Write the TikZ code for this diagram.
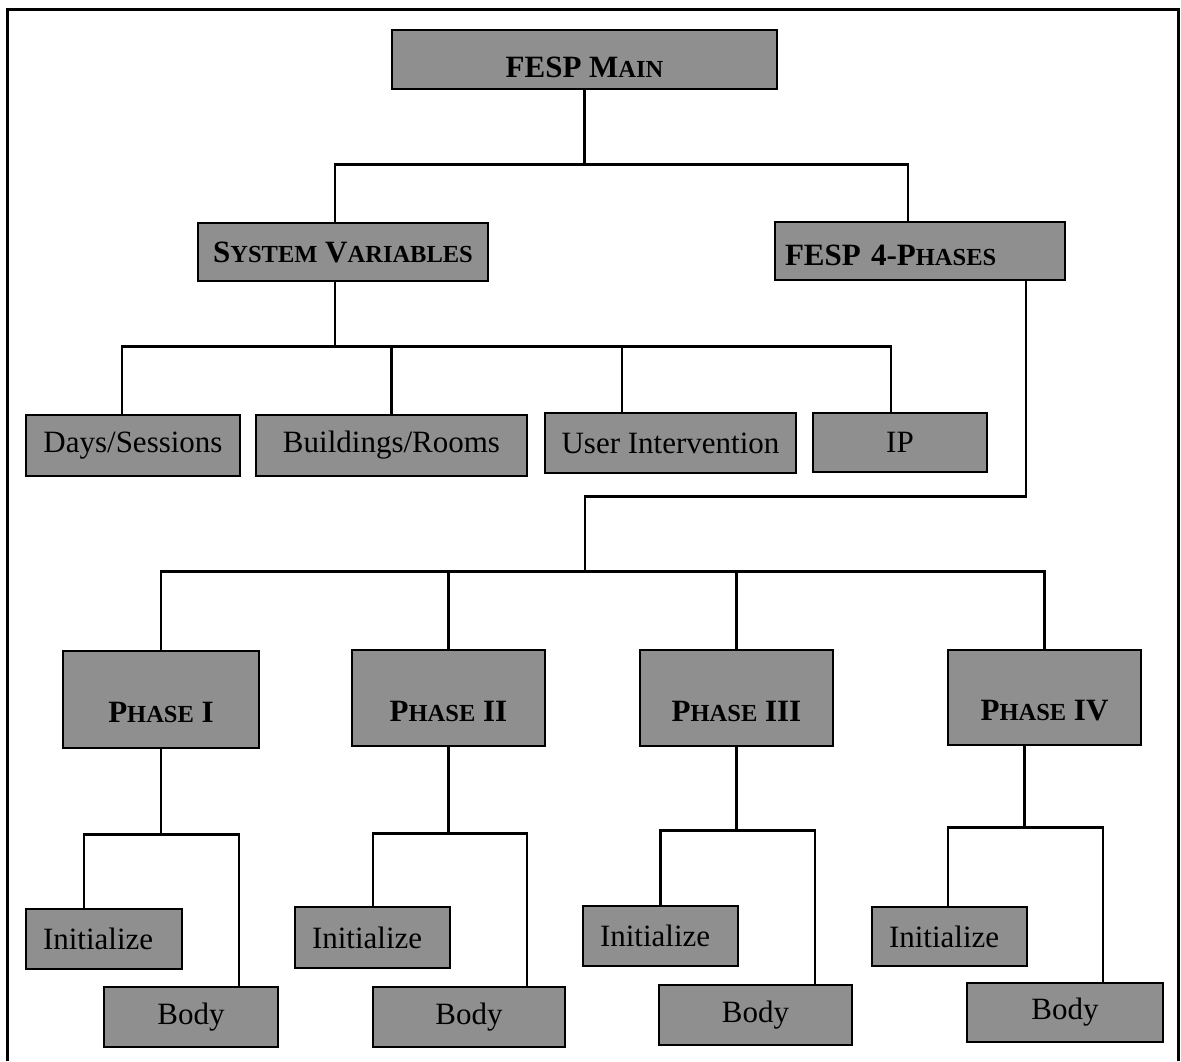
\documentclass[tikz,border=0pt]{standalone}
\usepackage{fontspec}
\setmainfont{Liberation Serif}
\usepackage{tikz}
\definecolor{boxgray}{gray}{0.56}
\newcommand{\sml}[1]{{\fontsize{24.5}{26}\selectfont #1}}
\newcommand{\low}[2]{\raisebox{-#1pt}[\height][\depth]{#2}}

\begin{document}
\begin{tikzpicture}[x=1pt,y=-1pt,
  box/.style={draw, line width=2.5pt, fill=boxgray, inner sep=0pt, font=\fontsize{31}{34}\selectfont},
  head/.style={box, font=\fontsize{31}{34}\selectfont\bfseries},
  link/.style={line width=2.5pt}]
\useasboundingbox (0,0) rectangle (1181,1061);
\draw[line width=3pt] (7,1061) -- (7,9) -- (1178,9) -- (1178,1061);

% top levels
\node[head, minimum width=385pt, minimum height=59pt] (main) at (584.5,59.5) {\low{8}{FESP M\sml{AIN}}};
\node[head, minimum width=290pt, minimum height=58pt] (sysvar) at (343,252) {S\sml{YSTEM} V\sml{ARIABLES}};
\node[head, minimum height=58pt, inner xsep=10pt, text width=270pt, align=left] (phases) at (920,251) {\low{4}{FESP 4-P\sml{HASES}}};

\draw[link] (main.south) -- ++(0,74) -| ([xshift=-8pt]sysvar.north);
\draw[link] (main.south) -- ++(0,74) -| ([xshift=-12pt]phases.north);

% system variables
\node[box, minimum width=214pt, minimum height=61pt] (days) at (133,445.5) {Days/Sessions};
\node[box, minimum width=271pt, minimum height=61pt] (build) at (391.5,445.5) {Buildings/Rooms};
\node[box, minimum width=251pt, minimum height=60pt] (user) at (670.5,443) {User Intervention};
\node[box, minimum width=174pt, minimum height=59pt] (ip) at (900,442.5) {IP};

\draw[link] ([xshift=-8pt]sysvar.south) -- ++(0,64) -| ([xshift=-11pt]days.north);
\draw[link] ([xshift=-8pt]sysvar.south) -- ++(0,64) -| (build.north);
\draw[link] ([xshift=-8pt]sysvar.south) -- ++(0,64) -| ([xshift=-48.5pt]user.north);
\draw[link] ([xshift=-8pt]sysvar.south) -- ++(0,64) -| ([xshift=-9pt]ip.north);

% phases
\node[head, minimum width=196pt, minimum height=97pt] (p1) at (161,699.5) {\low{13}{P\sml{HASE} I}};
\node[head, minimum width=193pt, minimum height=96pt] (p2) at (448.5,698) {\low{13}{P\sml{HASE} II}};
\node[head, minimum width=193pt, minimum height=96pt] (p3) at (736.5,698) {\low{13}{P\sml{HASE} III}};
\node[head, minimum width=193pt, minimum height=95pt] (p4) at (1044.5,697.5) {\low{13}{P\sml{HASE} IV}};

\draw[link] ([xshift=106pt]phases.south) -- ++(0,215) -- ++(-441,0) -- ++(0,75) coordinate (j2);
\draw[link] (j2) -| (p1.north);
\draw[link] (j2) -| (p2.north);
\draw[link] (j2) -| (p3.north);
\draw[link] (j2) -| (p4.north);

% initialize / body
\node[box, minimum height=60pt, inner xsep=17pt, text width=122pt, align=left] (init1) at (104,939) {Initialize};
\node[box, minimum width=174pt, minimum height=60pt] (body1) at (191,1017) {Body};
\node[box, minimum height=61pt, inner xsep=17pt, text width=121pt, align=left] (init2) at (372.5,937.5) {Initialize};
\node[box, minimum width=192pt, minimum height=60pt] (body2) at (469,1017) {Body};
\node[box, minimum height=60pt, inner xsep=17pt, text width=121pt, align=left] (init3) at (660.5,936) {Initialize};
\node[box, minimum width=193pt, minimum height=60pt] (body3) at (755.5,1015) {Body};
\node[box, minimum height=59pt, inner xsep=17pt, text width=121pt, align=left] (init4) at (949.5,936.5) {Initialize};
\node[box, minimum width=196pt, minimum height=59pt] (body4) at (1065,1012.5) {Body};

\draw[link] (p1.south) -- ++(0,85) coordinate (k1);
\draw[link] (k1) -| ([xshift=-20pt]init1.north);
\draw[link] (k1) -| ([xshift=48pt]body1.north);
\draw[link] (p2.south) -- ++(0,86) coordinate (k2);
\draw[link] (k2) -| ([xshift=0.5pt]init2.north);
\draw[link] (k2) -| ([xshift=58pt]body2.north);
\draw[link] (p3.south) -- ++(0,83) coordinate (k3);
\draw[link] (k3) -| (init3.north);
\draw[link] (k3) -| ([xshift=59.5pt]body3.north);
\draw[link] ([xshift=-20pt]p4.south) -- ++(0,81) coordinate (k4);
\draw[link] (k4) -| ([xshift=-1.5pt]init4.north);
\draw[link] (k4) -| ([xshift=38pt]body4.north);
\end{tikzpicture}
\end{document}
